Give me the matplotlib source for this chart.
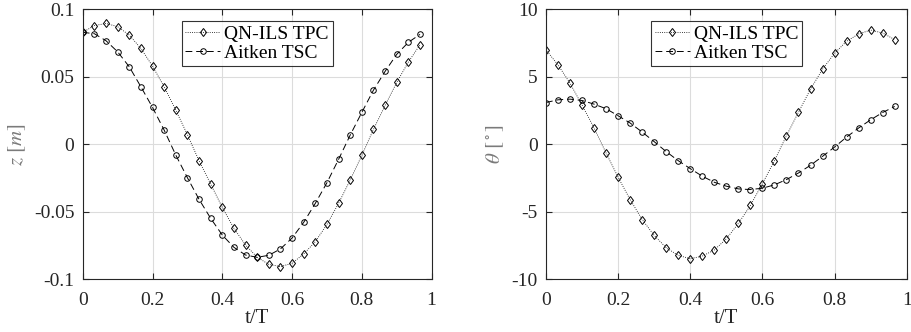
import numpy as np
import matplotlib
matplotlib.use('Agg')
import matplotlib.pyplot as plt
from matplotlib.ticker import FuncFormatter

plt.rcParams['font.family'] = ['Liberation Serif', 'DejaVu Serif']
plt.rcParams['mathtext.fontset'] = 'stix'
plt.rcParams['axes.unicode_minus'] = False

t = np.arange(30) / 30.0

z_qn = [0.083, 0.088, 0.0896, 0.0872, 0.081, 0.0711, 0.058, 0.0427, 0.0254, 0.0072,
        -0.0121, -0.0294, -0.0467, -0.0622, -0.0746, -0.0837, -0.0889, -0.0906, -0.0881, -0.0812,
        -0.0721, -0.0593, -0.0437, -0.0264, -0.0081, 0.0111, 0.0289, 0.0459, 0.061, 0.0738]
z_ait = [0.083, 0.082, 0.0768, 0.0686, 0.0575, 0.0427, 0.0274, 0.0106, -0.0079, -0.0247,
         -0.0407, -0.0548, -0.0672, -0.0763, -0.082, -0.0837, -0.0822, -0.0775, -0.0694, -0.0578,
         -0.0437, -0.0284, -0.0111, 0.0069, 0.0237, 0.0402, 0.0541, 0.0667, 0.0756, 0.0815]

th_qn = [7.0, 5.89, 4.53, 2.91, 1.21, -0.64, -2.44, -4.09, -5.57, -6.75,
         -7.66, -8.23, -8.47, -8.28, -7.83, -7.0, -5.86, -4.53, -2.91, -1.21,
         0.64, 2.39, 4.09, 5.57, 6.75, 7.64, 8.18, 8.47, 8.25, 7.76]
th_ait = [3.10, 3.30, 3.35, 3.25, 2.98, 2.64, 2.12, 1.58, 0.91, 0.20,
          -0.54, -1.21, -1.80, -2.36, -2.81, -3.10, -3.30, -3.35, -3.25, -3.00,
          -2.61, -2.12, -1.55, -0.89, -0.20, 0.54, 1.21, 1.82, 2.36, 2.81]

labels = ['QN-ILS TPC', 'Aitken TSC']
xticks = [0, 0.2, 0.4, 0.6, 0.8, 1]

fig = plt.figure(figsize=(9.11, 3.32), dpi=100)
ax1 = fig.add_axes([0.0908, 0.1587, 0.383, 0.813])
ax2 = fig.add_axes([0.5993, 0.1587, 0.396, 0.813])

fmt = FuncFormatter(lambda v, p: '%g' % round(v, 4))


def panel(ax, y1, y2, ylim, yticks, ylabel):
    ax.plot(t, y1, color='k', ls=':', lw=0.6, marker='d', ms=4.5,
            mfc='none', mew=0.7, label=labels[0])
    ax.plot(t, y2, color='k', ls=(0, (7, 4)), lw=0.7, marker='o', ms=4,
            mfc='none', mew=0.7, label=labels[1])
    ax.set_xlim(0, 1)
    ax.set_ylim(*ylim)
    ax.set_xticks(xticks)
    ax.set_yticks(yticks)
    ax.xaxis.set_major_formatter(fmt)
    ax.yaxis.set_major_formatter(fmt)
    ax.grid(True, color='#dcdcdc', lw=0.8)
    ax.set_axisbelow(True)
    ax.tick_params(direction='in', top=True, right=True, labelsize=14,
                   length=4, color='#262626', labelcolor='#262626')
    ax.tick_params(axis='x', pad=9)
    ax.tick_params(axis='y', pad=6)
    for s in ax.spines.values():
        s.set_linewidth(0.8)
        s.set_color('#262626')
    ax.set_xlabel('t/T', fontsize=15, color='#262626', labelpad=0)
    ax.set_ylabel(ylabel, fontsize=15, color='#7a7a7a', labelpad=4)
    leg = ax.legend(loc='upper center', fontsize=14, frameon=True, fancybox=False,
                    handlelength=1.8, handletextpad=0.2, borderpad=0.2,
                    labelspacing=0.1, borderaxespad=0.6)
    leg.get_frame().set_edgecolor('k')
    leg.get_frame().set_linewidth(0.8)


panel(ax1, z_qn, z_ait, (-0.1, 0.1), [-0.1, -0.05, 0, 0.05, 0.1], '$z\\ [m]$')
panel(ax2, th_qn, th_ait, (-10, 10), [-10, -5, 0, 5, 10], '$\\theta\\ [^\\circ]$')

fig.savefig('out.png', dpi=100)
